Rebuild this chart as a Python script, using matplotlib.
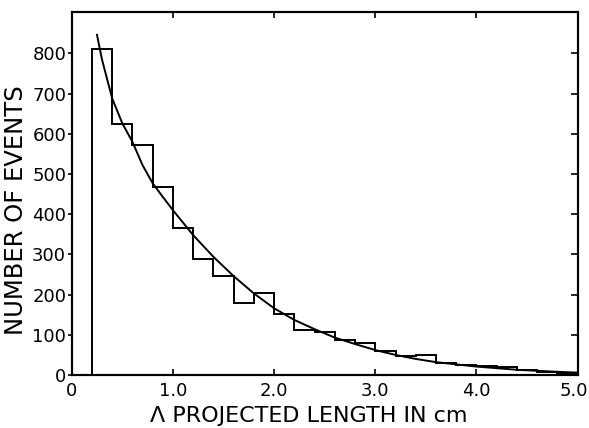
import matplotlib
matplotlib.use("Agg")
import matplotlib.pyplot as plt
from matplotlib.transforms import ScaledTranslation

# histogram bins (cm) and counts
bin_edges = [0.2, 0.4, 0.6, 0.8, 1.0, 1.2, 1.4, 1.6, 1.8, 2.0, 2.2, 2.4, 2.6,
             2.8, 3.0, 3.2, 3.4, 3.6, 3.8, 4.0, 4.2, 4.4, 4.6, 4.8, 5.0]
counts = [810, 625, 572, 467, 365, 289, 247, 180, 203, 151, 112, 106,
          87, 79, 60, 47, 51, 30, 26, 22, 19, 13, 7, 5]

# fitted curve, sampled by eye
curve_x = [0.25, 0.3, 0.4, 0.5, 0.6, 0.7, 0.8, 0.9, 1.0, 1.2, 1.4, 1.6, 1.8,
           2.0, 2.2, 2.4, 2.6, 2.8, 3.0, 3.2, 3.4, 3.6, 4.0, 4.4, 4.8, 5.0]
curve_y = [846, 784, 688, 626, 580, 522, 477, 443, 410, 348, 294, 246, 203,
           166, 137, 114, 93, 77, 62, 50, 40, 32, 21, 13, 8, 6]

x_ticks = [0, 1, 2, 3, 4, 5]
x_labels = ["0", "1.0", "2.0", "3.0", "4.0", "5.0"]
y_ticks = [0, 100, 200, 300, 400, 500, 600, 700, 800]

fig = plt.figure(figsize=(5.89, 4.28), dpi=100)
ax = fig.add_axes([0.1217, 0.1238, 0.8591, 0.8475])

ax.stairs(counts, bin_edges, baseline=0, color="black", linewidth=1.4)
ax.plot(curve_x, curve_y, color="black", linewidth=1.4)

ax.set_xlim(0, 5.0)
ax.set_ylim(0, 902)

ax.set_xticks(x_ticks)
ax.set_xticklabels(x_labels)
ax.set_yticks(y_ticks)
ax.tick_params(axis="x", direction="in", length=4, width=1.2, labelsize=13,
               top=True, pad=5)
ax.tick_params(axis="y", direction="out", length=3, width=1.2, labelsize=13,
               pad=1)

# keep the last x label inside the picture
last = ax.xaxis.get_major_ticks()[-1].label1
last.set_transform(last.get_transform() +
                   ScaledTranslation(-3 / 72, 0, fig.dpi_scale_trans))

# inward ticks on the right side too
ax2 = ax.twinx()
ax2.set_ylim(ax.get_ylim())
ax2.set_yticks(y_ticks)
ax2.tick_params(axis="y", direction="in", length=5, width=1.2, labelright=False)

for a in (ax, ax2):
    for s in a.spines.values():
        s.set_linewidth(1.5)

ax.set_xlabel("\u039b PROJECTED LENGTH IN cm", fontsize=16, labelpad=4)
ax.set_ylabel("NUMBER OF EVENTS", fontsize=17.5, labelpad=3)
ax.xaxis.label.set_x(0.469)
ax.yaxis.label.set_y(0.455)

fig.savefig("out.png", dpi=100)
